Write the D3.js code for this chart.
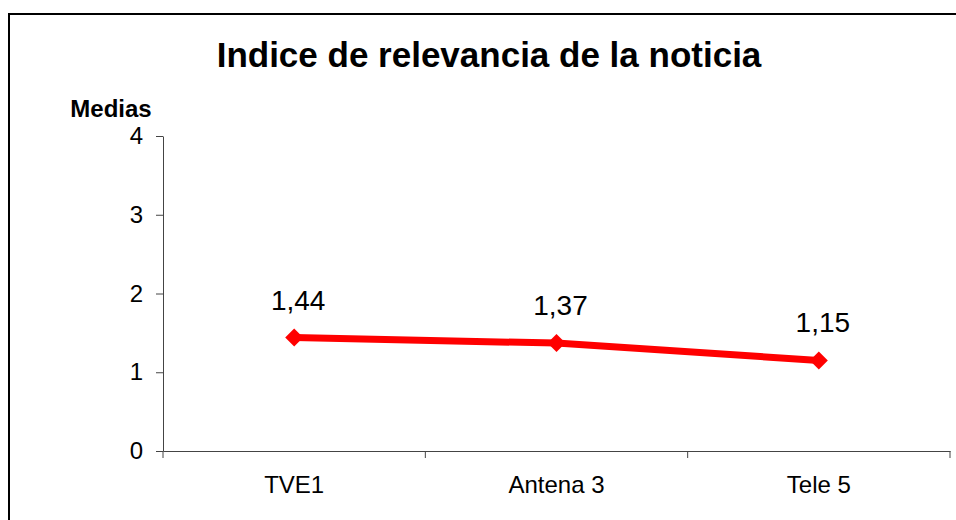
<!DOCTYPE html>
<html>
<head>
<meta charset="utf-8">
<script src="https://cdn.jsdelivr.net/npm/d3@7"></script>
<style>
  body { margin: 0; background: #fff; }
  svg { display: block; font-family: "Liberation Sans", Arial, sans-serif; }
</style>
</head>
<body>
<div id="chart"></div>
<script>
// chart data
const categories = ["TVE1", "Antena 3", "Tele 5"];
const medias = [1.44, 1.37, 1.15];
const yTicks = [0, 1, 2, 3, 4];

const width = 956, height = 520;
const plot = { left: 163, right: 950, top: 136, bottom: 451 };

const svg = d3.select("#chart").append("svg")
    .attr("width", width)
    .attr("height", height);

// outer frame (runs past the right and bottom edges)
svg.append("rect")
    .attr("x", 9).attr("y", 14)
    .attr("width", 1000).attr("height", 600)
    .attr("fill", "none")
    .attr("stroke", "#000")
    .attr("stroke-width", 2);

// title
svg.append("text")
    .attr("x", 489).attr("y", 67)
    .attr("text-anchor", "middle")
    .attr("font-size", 35)
    .attr("font-weight", "bold")
    .text("Indice de relevancia de la noticia");

svg.append("text")
    .attr("x", 111).attr("y", 117)
    .attr("text-anchor", "middle")
    .attr("font-size", 24)
    .attr("font-weight", "bold")
    .text("Medias");

const x = d3.scaleBand()
    .domain(categories)
    .range([plot.left, plot.right])
    .padding(0);

const y = d3.scaleLinear()
    .domain([0, 4])
    .range([plot.bottom, plot.top]);

// y axis
const yAxis = svg.append("g")
    .attr("transform", "translate(" + plot.left + ",0)")
    .call(d3.axisLeft(y).tickValues(yTicks).tickFormat(d3.format("d"))
        .tickSize(7).tickPadding(13).tickSizeOuter(0));
yAxis.select(".domain").attr("stroke", "#444");
yAxis.selectAll(".tick line").attr("stroke", "#444");
yAxis.selectAll("text").attr("font-size", 24).attr("fill", "#000")
    .attr("font-family", "Liberation Sans, Arial, sans-serif");

// x axis: labels at band centres, ticks on band boundaries
const xAxis = svg.append("g")
    .attr("transform", "translate(0," + plot.bottom + ")")
    .call(d3.axisBottom(x).tickSize(0).tickPadding(25).tickSizeOuter(0));
xAxis.select(".domain").attr("stroke", "#444");
xAxis.selectAll("text").attr("font-size", 24).attr("fill", "#000")
    .attr("font-family", "Liberation Sans, Arial, sans-serif");

const bounds = categories.map(d => x(d)).concat([x(categories[categories.length - 1]) + x.bandwidth()]);
xAxis.selectAll(".bound")
    .data(bounds)
  .enter().append("line")
    .attr("class", "bound")
    .attr("x1", d => d).attr("x2", d => d)
    .attr("y1", 0).attr("y2", 7)
    .attr("stroke", "#444");

// line series
const pts = categories.map((c, i) => ({ c: c, v: medias[i] }));
const cx = d => x(d.c) + x.bandwidth() / 2;

svg.append("path")
    .datum(pts)
    .attr("fill", "none")
    .attr("stroke", "#ff0000")
    .attr("stroke-width", 7)
    .attr("d", d3.line().x(cx).y(d => y(d.v)));

svg.selectAll(".marker")
    .data(pts)
  .enter().append("path")
    .attr("class", "marker")
    .attr("transform", d => "translate(" + cx(d) + "," + y(d.v) + ")")
    .attr("d", "M0,-9L9,0L0,9L-9,0Z")
    .attr("fill", "#ff0000");

// value labels
svg.selectAll(".lbl")
    .data(pts)
  .enter().append("text")
    .attr("class", "lbl")
    .attr("x", d => cx(d) + 4)
    .attr("y", d => y(d.v) - 28)
    .attr("text-anchor", "middle")
    .attr("font-size", 28)
    .text(d => d3.format(".2f")(d.v).replace(".", ","));
</script>
</body>
</html>
